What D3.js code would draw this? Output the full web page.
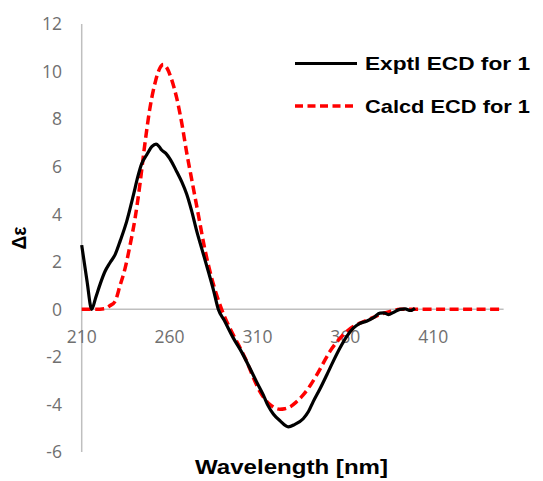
<!DOCTYPE html>
<html>
<head>
<meta charset="utf-8">
<script src="https://cdn.jsdelivr.net/npm/d3@7"></script>
<style>
  html, body { margin: 0; padding: 0; background: #fff; }
  svg { display: block; }
</style>
</head>
<body>
<div id="chart"></div>
<script>
// Spectres ECD : expérimental vs calculé

const exptWavelength = [210, 213, 215.7, 218, 220.4, 223.3, 226, 229, 232, 235.6, 239.4, 242, 244, 247, 250, 252.3, 254, 255.5, 258, 260,
  264, 267, 269.7, 272.5, 275.4, 278.5, 282, 285, 287.7, 291, 296.2, 301, 305.7, 309.5, 313.3, 316, 319, 323, 327.5, 331,
  336, 339, 341.7, 345.5, 349.4, 353, 356.9, 360.7, 364.5, 368, 372, 376, 379.7, 382, 384.4, 387.5, 391, 394, 397, 399.6];
const exptDelta = [2.7, 1.2, 0, 0.5, 1.04, 1.6, 1.95, 2.3, 2.9, 3.7, 4.8, 5.6, 6.1, 6.5, 6.85, 6.95, 6.85, 6.7, 6.55, 6.35,
  5.8, 5.35, 4.85, 4.15, 3.3, 2.5, 1.6, 0.8, 0, -0.45, -1.2, -1.8, -2.48, -3.05, -3.6, -4.05, -4.4, -4.7, -4.94, -4.85,
  -4.6, -4.3, -3.88, -3.35, -2.76, -2.2, -1.63, -1.15, -0.79, -0.6, -0.5, -0.35, -0.16, -0.15, -0.22, -0.12, 0, 0.02, -0.05, 0.05];

const calcWavelength = [210, 214, 218, 223.3, 226, 229, 231.8, 234.6, 237.5, 240.3, 243.2, 245.5, 248.9, 252, 254.5, 256.4, 258.5, 261, 264, 267,
  269.7, 273, 276.3, 280, 284, 287, 289.6, 294, 298.2, 303.9, 307.5, 311.4, 314.5, 317.1, 320, 322.8, 325.5, 328.5, 332, 336,
  340, 343.7, 347.5, 351.2, 356, 360.7, 364.5, 368.3, 374, 379.7, 385, 391, 400, 420, 450];
const calcDelta = [0, 0, 0, 0.03, 0.15, 0.34, 1.0, 1.7, 2.7, 3.8, 5.3, 6.7, 8.5, 9.6, 10.15, 10.3, 10.15, 9.7, 8.9, 7.8,
  6.6, 5.3, 4.0, 2.55, 1.3, 0.55, 0, -0.75, -1.35, -2.2, -2.85, -3.46, -3.8, -4.0, -4.15, -4.2, -4.18, -4.1, -3.9, -3.6,
  -3.2, -2.76, -2.25, -1.77, -1.3, -0.93, -0.72, -0.58, -0.4, -0.22, -0.1, 0, 0, 0, 0];

const xTicks = [210, 260, 310, 360, 410];
const yTicks = [-6, -4, -2, 0, 2, 4, 6, 8, 10, 12];

const seriesNames = ['Exptl ECD for 1', 'Calcd ECD for 1'];

function initChart() {
    const width = 543, height = 481;

    const svg = d3.select('#chart').append('svg')
        .attr('width', width)
        .attr('height', height);

    // échelles
    const x = d3.scaleLinear().domain([210, 450]).range([81.7, 503.6]);
    const y = d3.scaleLinear().domain([-6, 12]).range([452, 24]);

    const tickFont = "'Open Sans', sans-serif";
    const boldFont = "'Liberation Sans', Arial, sans-serif";

    // axe Y (ligne verticale)
    svg.append('line')
        .attr('x1', x(210)).attr('x2', x(210))
        .attr('y1', y(12)).attr('y2', y(-6))
        .attr('stroke', '#bfbfbf').attr('stroke-width', 1.5);

    // axe X à zéro
    svg.append('line')
        .attr('x1', x(210)).attr('x2', x(450))
        .attr('y1', y(0)).attr('y2', y(0))
        .attr('stroke', '#bfbfbf').attr('stroke-width', 1.5);

    svg.append('g').selectAll('text')
        .data(yTicks).join('text')
        .attr('x', 62)
        .attr('y', d => y(d))
        .attr('dy', '0.36em')
        .attr('text-anchor', 'end')
        .style('font-family', tickFont)
        .style('font-size', '17.5px')
        .style('fill', '#707070')
        .text(d => d);

    svg.append('g').selectAll('text')
        .data(xTicks).join('text')
        .attr('x', d => x(d))
        .attr('y', 343)
        .attr('text-anchor', 'middle')
        .style('font-family', tickFont)
        .style('font-size', '17.5px')
        .style('fill', '#707070')
        .text(d => d);

    // courbes
    const exptData = exptWavelength.map((w, i) => [w, exptDelta[i]]);
    const calcData = calcWavelength.map((w, i) => [w, calcDelta[i]]);

    const line = d3.line()
        .x(d => x(d[0]))
        .y(d => y(d[1]))
        .curve(d3.curveMonotoneX);

    svg.append('path')
        .datum(calcData)
        .attr('fill', 'none')
        .attr('stroke', '#ff0000')
        .attr('stroke-width', 3.5)
        .attr('stroke-dasharray', '9,4.5')
        .attr('d', line);

    svg.append('path')
        .datum(exptData)
        .attr('fill', 'none')
        .attr('stroke', '#000')
        .attr('stroke-width', 3.2)
        .attr('stroke-linejoin', 'round')
        .attr('d', line);

    // légende
    const legend = svg.append('g');
    const legendY = [63.5, 106];
    legend.selectAll('line')
        .data(seriesNames).join('line')
        .attr('x1', 295).attr('x2', 357)
        .attr('y1', (d, i) => legendY[i]).attr('y2', (d, i) => legendY[i])
        .attr('stroke', (d, i) => i === 0 ? '#000' : '#ff0000')
        .attr('stroke-width', (d, i) => i === 0 ? 3 : 3.5)
        .attr('stroke-dasharray', (d, i) => i === 0 ? null : '8,4.5');

    legend.selectAll('text')
        .data(seriesNames).join('text')
        .attr('x', 365)
        .attr('y', (d, i) => legendY[i] + 6.7)
        .attr('textLength', 165)
        .attr('lengthAdjust', 'spacingAndGlyphs')
        .style('font-family', boldFont)
        .style('font-weight', 'bold')
        .style('font-size', '18.5px')
        .style('fill', '#000')
        .text(d => d);

    // titres des axes
    svg.append('text')
        .attr('x', 291.5)
        .attr('y', 474)
        .attr('text-anchor', 'middle')
        .attr('textLength', 193)
        .attr('lengthAdjust', 'spacingAndGlyphs')
        .style('font-family', boldFont)
        .style('font-weight', 'bold')
        .style('font-size', '20px')
        .style('fill', '#000')
        .text('Wavelength [nm]');

    svg.append('text')
        .attr('transform', 'translate(25.5,238) rotate(-90)')
        .attr('text-anchor', 'middle')
        .attr('textLength', 23)
        .attr('lengthAdjust', 'spacingAndGlyphs')
        .style('font-family', boldFont)
        .style('font-weight', 'bold')
        .style('font-size', '20px')
        .style('fill', '#000')
        .text('Δε');
}

initChart();
</script>
</body>
</html>
